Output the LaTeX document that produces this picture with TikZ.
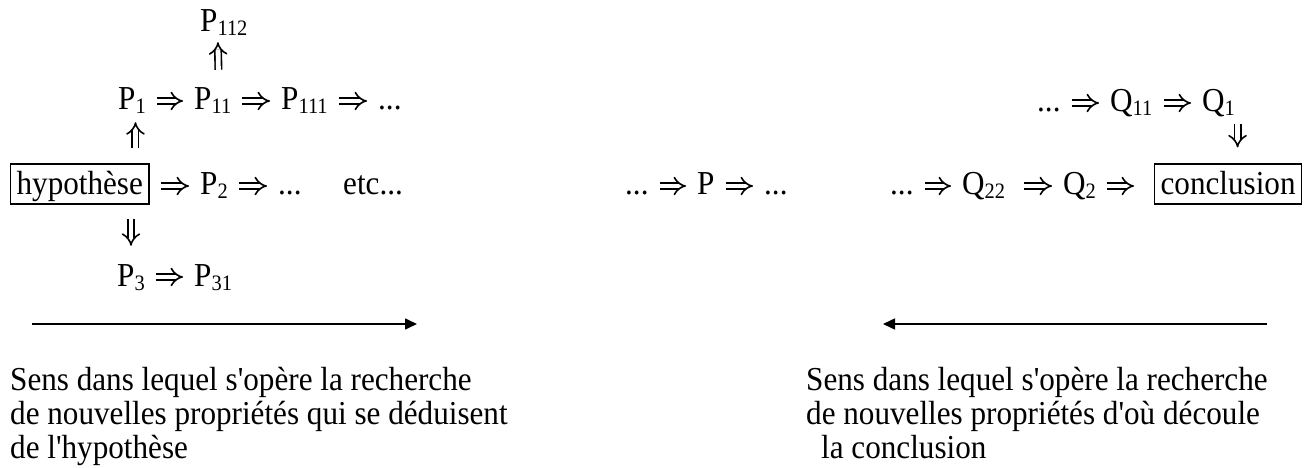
\documentclass[tikz,border=0pt]{standalone}
\usepackage{fontspec}
\setmainfont{Liberation Serif}[Ligatures=TeXOff, FakeStretch=0.93]
\usetikzlibrary{arrows.meta}
\newcommand{\ssub}[1]{\raisebox{-4pt}{\fontsize{22}{22}\selectfont #1}}
\begin{document}
\begin{tikzpicture}[x=1pt,y=-1pt,
  every node/.style={font=\fontsize{33.5}{37}\selectfont},
  lbl/.style={anchor=base west, inner sep=0pt, text height=24pt, text depth=6pt},
  txt/.style={anchor=base west, inner sep=0pt},
  boxed/.style={draw, line width=1.2pt, anchor=base west, inner xsep=6pt, inner ysep=5pt, text height=26pt, text depth=4pt},
  imp/.style={double, double distance=4.8pt, line width=1.6pt, -{Implies[scale=1.35]}, shorten <=11pt, shorten >=11pt},
  longarrow/.style={line width=1.6pt, -{Triangle[length=12pt,width=11pt]}}
]
\useasboundingbox (0,0) rectangle (1310,468);

% left tree
\node[lbl] (P112) at (200,32) {P\ssub{112}};
\node[lbl] (P1) at (118,110) {P\ssub{1}};
\node[lbl] (P11) at (194,110) {P\ssub{11}};
\node[lbl] (P111) at (281,110) {P\ssub{111}};
\node[lbl] (dA) at (378,110) {...};
\node[boxed] (hyp) at (10,195) {hypothèse};
\node[lbl] (P2) at (200,195) {P\ssub{2}};
\node[lbl] (dB) at (278,195) {...};
\node[lbl] (etc) at (343,195) {etc...};
\node[lbl] (P3) at (117,286) {P\ssub{3}};
\node[lbl] (P31) at (194,286) {P\ssub{31}};

% middle
\node[lbl] (dM1) at (625,195) {...};
\node[lbl] (P) at (697,195) {P};
\node[lbl] (dM2) at (764,195) {...};

% right tree
\node[lbl] (dQ) at (1037,112) {...};
\node[lbl] (Q11) at (1110,112) {Q\ssub{11}};
\node[lbl] (Q1) at (1202,112) {Q\ssub{1}};
\node[lbl] (dC) at (890,195) {...};
\node[lbl] (Q22) at (962,195) {Q\ssub{22}};
\node[lbl] (Q2) at (1063,195) {Q\ssub{2}};
\node[boxed] (concl) at (1154,195) {conclusion};

% horizontal implications
\draw[imp] (P1) -- (P11);
\draw[imp] (P11) -- (P111);
\draw[imp] (P111) -- (dA);
\draw[imp] (hyp.east |- P2.west) -- (P2);
\draw[imp] (P2) -- (dB);
\draw[imp] (P3) -- (P31);
\draw[imp] (dM1) -- (P);
\draw[imp] (P) -- (dM2);
\draw[imp] (dQ) -- (Q11);
\draw[imp] (Q11) -- (Q1);
\draw[imp] (dC) -- (Q22);
\draw[imp, shorten <=19pt] (Q22) -- (Q2);
\draw[imp, shorten >=20pt] (Q2) -- (concl.west |- Q2.east);

% vertical implications
\draw[imp, shorten <=16pt, shorten >=4pt] ([xshift=6pt]P11.north) -- ([xshift=-6pt]P112.south);
\draw[imp, shorten <=15pt, shorten >=6pt] ([xshift=3.5pt]P1.south |- hyp.north) -- ([xshift=3.5pt]P1.south);
\draw[imp, shorten <=14pt, shorten >=16pt] (P3.north |- hyp.south) -- (P3.north);
\draw[imp, shorten <=6pt, shorten >=16pt] ([xshift=19pt]Q1.south) -- ([xshift=19pt]Q1.south |- concl.north);

% direction arrows
\coordinate (la) at (32,324);
\coordinate (lb) at (417,324);
\coordinate (ra) at (1267,324);
\coordinate (rb) at (883,324);
\draw[longarrow] (la) -- (lb);
\draw[longarrow] (ra) -- (rb);

% captions
\node[txt] (s1) at (10,390) {Sens dans lequel s'opère la recherche};
\node[txt] (s2) at (10,424) {de nouvelles propriétés qui se déduisent};
\node[txt] (s3) at (10,458) {de l'hypothèse};
\node[txt] (t1) at (806,390) {Sens dans lequel s'opère la recherche};
\node[txt] (t2) at (806,424) {de nouvelles propriétés d'où découle};
\node[txt] (t3) at (821,458) {la conclusion};
\end{tikzpicture}
\end{document}
